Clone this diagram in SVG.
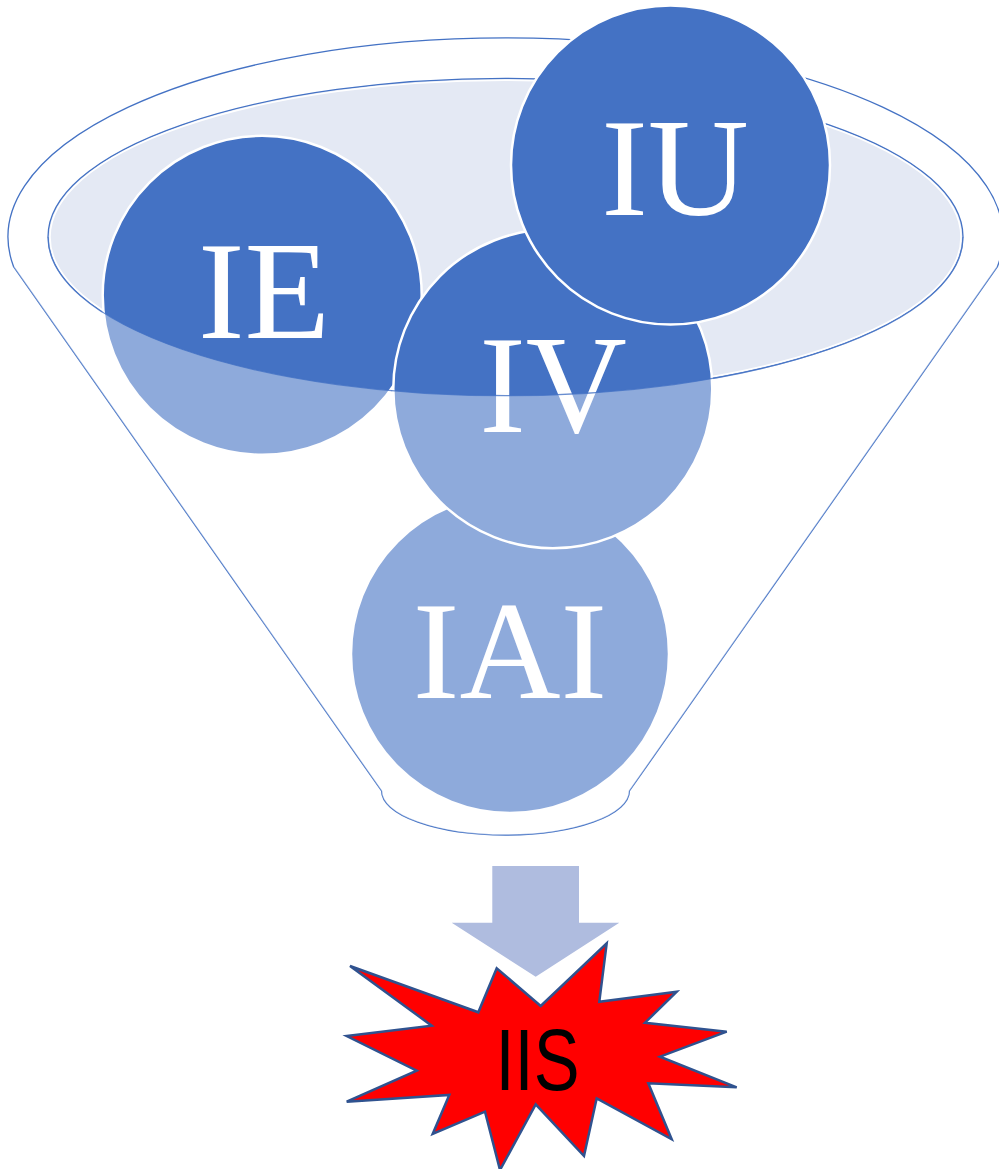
<svg xmlns="http://www.w3.org/2000/svg" width="999" height="1169" viewBox="0 0 999 1169">
<style>
.circ{fill:#4472C4;stroke:#FFFFFF;stroke-width:2.5}
.lbl{font-family:"Liberation Serif","Times New Roman",serif;font-size:140px;fill:#FFFFFF;text-anchor:middle}
.edge{fill:none;stroke:#4472C4;stroke-width:1.3}
</style>
<rect width="999" height="1169" fill="#FFFFFF"/>
<g id="funnel-back">
<path class="edge" fill="#FFFFFF" style="fill:#FFFFFF" d="M 13.6,266.7 A 497.5 199 0 1 1 997.4,266.7 L 629.4,791 A 123.9 44 0 0 1 381.6,791 Z"/>
<ellipse cx="505.5" cy="237" rx="457.5" ry="158.7" fill="#E4E9F4" stroke="#4472C4" stroke-width="1.3"/>
<ellipse cx="505.5" cy="237" rx="455.5" ry="156.7" fill="none" stroke="#FFFFFF" stroke-width="1.5"/>
</g>
<g id="node-IAI">
<circle class="circ" cx="510" cy="654" r="159"/>
<text class="lbl" x="510" y="698">IAI</text>
</g>
<g id="node-IE">
<circle class="circ" cx="262.2" cy="295.3" r="159.5"/>
<text class="lbl" x="264" y="338">IE</text>
</g>
<g id="node-IV">
<circle class="circ" cx="552.8" cy="388.8" r="159.5"/>
<text class="lbl" x="553" y="432">IV</text>
</g>
<g id="node-IU">
<circle class="circ" cx="670.5" cy="165" r="159.5"/>
<text class="lbl" x="675" y="215">IU</text>
</g>
<g id="funnel-front">
<path fill="#FFFFFF" fill-opacity="0.4" d="M 48,237 A 457.5 158.7 0 0 0 963,237 L 997.4,266.7 L 629.4,791 A 123.9 44 0 0 1 381.6,791 L 13.6,266.7 Z"/>
<path fill="none" stroke="#4472C4" stroke-width="1.2" stroke-opacity="0.8" d="M 48,237 A 457.5 158.7 0 0 0 963,237"/>
</g>
<g id="connectors">
<path fill="#AFBCDF" d="M 492.3,866 L 579,866 L 579,922.7 L 619.3,922.7 L 535.7,976.7 L 451.7,922.7 L 492.3,922.7 Z"/>
</g>
<g id="node-IIS">
<path fill="#FF0000" stroke="#2F528F" stroke-width="2.5" stroke-linejoin="miter" d="M 350,966 L 478.3,1012.3 L 496.7,968.3 L 540.7,1006 L 606.7,943.3 L 599.3,1001.7 L 676.7,991.7 L 645,1022.7 L 726.7,1031.7 L 660,1056.7 L 736.7,1087.3 L 648.3,1083.3 L 671.7,1139.3 L 596.7,1098.3 L 584,1156 L 535.7,1104.3 L 500,1170 L 485,1111.7 L 432.7,1134 L 449.3,1095 L 346.7,1101.7 L 416.7,1070.7 L 346.7,1036 L 431.7,1025.7 Z"/>
<text x="537.5" y="1090" font-family="'Liberation Sans',Arial,sans-serif" font-size="87" fill="#000000" text-anchor="middle" textLength="84" lengthAdjust="spacingAndGlyphs">IIS</text>
</g>
</svg>
